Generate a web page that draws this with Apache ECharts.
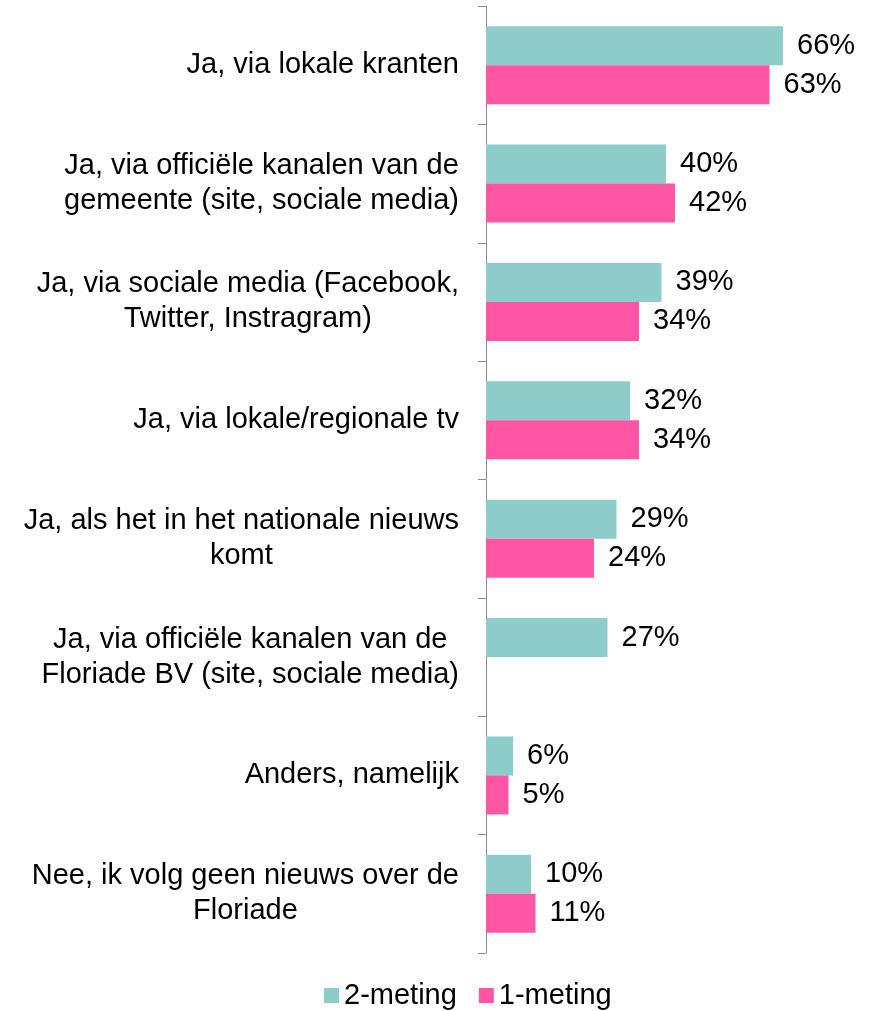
<!DOCTYPE html>
<html>
<head>
<meta charset="utf-8">
<script src="https://cdn.jsdelivr.net/npm/echarts@6/dist/echarts.min.js"></script>
<style>
    html, body { margin: 0; padding: 0; background: #fff; }
    #chart { width: 871px; height: 1011px; }
</style>
</head>
<body>
<div id="chart"></div>
<script>
    const categories = [
        'Ja, via lokale kranten',
        'Ja, via officiële kanalen van de\ngemeente (site, sociale media)',
        'Ja, via sociale media (Facebook,\nTwitter, Instragram)',
        'Ja, via lokale/regionale tv',
        'Ja, als het in het nationale nieuws\nkomt',
        'Ja, via officiële kanalen van de\nFloriade BV (site, sociale media)',
        'Anders, namelijk',
        'Nee, ik volg geen nieuws over de\nFloriade'
    ];
    const meting2 = [66, 40, 39, 32, 29, 27, 6, 10];
    const meting1 = [63, 42, 34, 34, 24, null, 5, 11];

    const TextColor = '#000';
    const FontFamily = '"Liberation Sans", Arial, sans-serif';
    const FontSize = 29;

    const chart = echarts.init(document.getElementById('chart'));

    function labelStyle() {
        return {
            show: true,
            position: 'right',
            distance: 14,
            formatter: p => p.value + '%',
            color: TextColor,
            fontSize: FontSize,
            fontFamily: FontFamily
        };
    }

    chart.setOption({
        backgroundColor: '#fff',
        animation: false,
        grid: {left: 486, right: 25, top: 6, bottom: 58},
        legend: {
            top: 976,
            left: 319,
            icon: 'rect',
            itemWidth: 15,
            itemHeight: 15,
            itemGap: 22,
            textStyle: {color: TextColor, fontSize: FontSize, fontFamily: FontFamily},
            data: ['2-meting', '1-meting']
        },
        xAxis: {
            type: 'value',
            min: 0,
            max: 80,
            show: false
        },
        yAxis: {
            type: 'category',
            inverse: true,
            data: categories,
            axisLine: {show: true, lineStyle: {color: '#8c8c8c', width: 1}},
            axisTick: {show: true, inside: false, length: 8, lineStyle: {color: '#8c8c8c'}},
            axisLabel: {
                margin: 27,
                align: 'right',
                // lines centred inside the block, block right aligned
                formatter: v => v.split('\n').map(s => '{c|' + s + '}').join('\n'),
                rich: {
                    c: {
                        align: 'center',
                        color: TextColor,
                        fontSize: FontSize,
                        fontFamily: FontFamily,
                        lineHeight: 35
                    }
                }
            },
            splitLine: {show: false}
        },
        series: [
            {
                name: '2-meting',
                type: 'bar',
                data: meting2,
                barWidth: 39,
                barGap: '0%',
                itemStyle: {color: '#8ccdca'},
                label: labelStyle()
            },
            {
                name: '1-meting',
                type: 'bar',
                data: meting1,
                barWidth: 39,
                barGap: '0%',
                itemStyle: {color: '#ff55a5'},
                label: labelStyle()
            }
        ]
    });
</script>
</body>
</html>
